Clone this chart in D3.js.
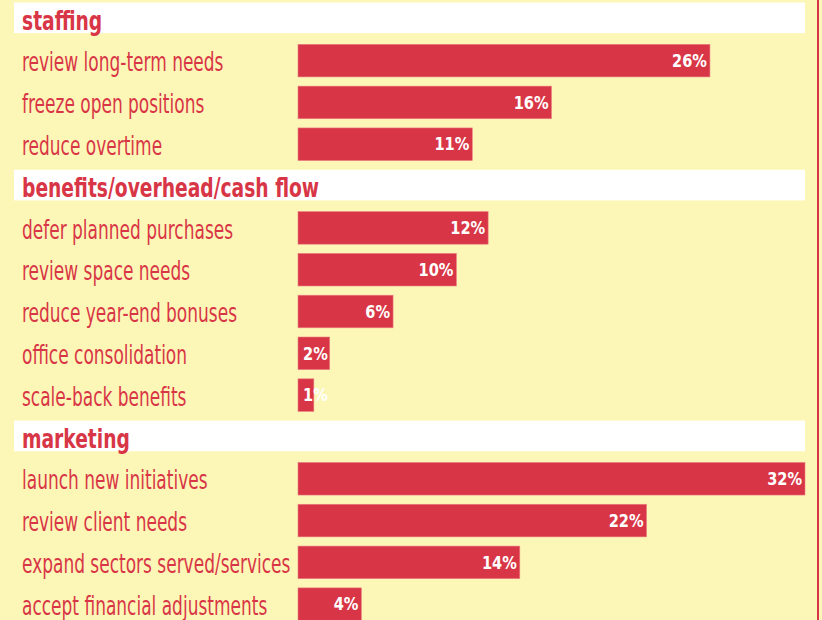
<!DOCTYPE html>
<html>
<head>
<meta charset="utf-8">
<script src="https://cdn.jsdelivr.net/npm/d3@7"></script>
<style>
  html, body { margin: 0; padding: 0; background: #fdf7b7; }
  svg { display: block; }
</style>
</head>
<body>
<svg id="chart" width="822" height="620"></svg>
<script>
// data
const groups = ["staffing", "benefits/overhead/cash flow", "marketing"];
const labels = [
    ["review long-term needs", "freeze open positions", "reduce overtime"],
    ["defer planned purchases", "review space needs", "reduce year-end bonuses", "office consolidation", "scale-back benefits"],
    ["launch new initiatives", "review client needs", "expand sectors served/services", "accept financial adjustments"]
];
const values = [
    [26, 16, 11],
    [12, 10, 6, 2, 1],
    [32, 22, 14, 4]
];

const red = "#d83646";
const font = "'DejaVu Sans Condensed', 'Liberation Sans Narrow', sans-serif";

// flatten into rows: one header then its items
let rows = [];
groups.forEach(function (g, gi) {
    rows.push({ key: "h" + gi, type: "header", label: g });
    labels[gi].forEach(function (l, i) {
        rows.push({ key: "r" + gi + "_" + i, type: "item", label: l, value: values[gi][i] });
    });
});

const svg = d3.select("#chart");

const y = d3.scaleBand()
    .domain(rows.map(d => d.key))
    .range([2.5, 2.5 + rows.length * 41.2])
    .paddingInner(0.22)
    .paddingOuter(0)
    .align(0);

const x = d3.scaleLinear()
    .domain([0, 32])
    .range([298, 805]);

// right edge rule
svg.append("line")
    .attr("x1", 818).attr("x2", 818)
    .attr("y1", 0).attr("y2", 620)
    .attr("stroke", red)
    .attr("stroke-width", 2);

// header bands
let headers = rows.filter(d => d.type === "header");
svg.selectAll("rect.header")
    .data(headers)
    .enter()
    .append("rect")
    .attr("class", "header")
    .attr("x", 14)
    .attr("y", d => y(d.key))
    .attr("width", 805 - 14)
    .attr("height", y.bandwidth() - 2)
    .attr("fill", "white");

// the source font is a tall condensed face, so squeeze the text sideways
svg.selectAll("text.header")
    .data(headers)
    .enter()
    .append("text")
    .attr("class", "header")
    .attr("transform", d => `translate(22,${y(d.key) + 27}) scale(0.77,1)`)
    .attr("fill", red)
    .attr("font-family", font)
    .attr("font-weight", "bold")
    .attr("font-size", 27)
    .text(d => d.label);

// item rows
let items = rows.filter(d => d.type === "item");

svg.selectAll("text.label")
    .data(items)
    .enter()
    .append("text")
    .attr("class", "label")
    .attr("transform", d => `translate(22,${y(d.key) + 27}) scale(0.7,1)`)
    .attr("fill", red)
    .attr("font-family", font)
    .attr("font-size", 27)
    .text(d => d.label);

svg.selectAll("rect.bar")
    .data(items)
    .enter()
    .append("rect")
    .attr("class", "bar")
    .attr("x", x(0))
    .attr("y", d => y(d.key))
    .attr("width", d => x(d.value) - x(0))
    .attr("height", y.bandwidth())
    .attr("fill", red)
    .attr("stroke", "#ec7f86")
    .attr("stroke-width", 0.6);

// value labels: right aligned at the bar end, but never before the bar start
const vScale = 0.9;
svg.selectAll("text.value")
    .data(items)
    .enter()
    .append("text")
    .attr("class", "value")
    .attr("fill", "white")
    .attr("font-family", font)
    .attr("font-weight", "bold")
    .attr("font-size", 18)
    .attr("text-anchor", "end")
    .text(d => d.value + "%")
    .attr("transform", function (d) {
        let w = this.getComputedTextLength() * vScale;
        let xe = Math.max(x(d.value) - 3, x(0) + 5 + w);
        return `translate(${xe},${y(d.key) + 22.5}) scale(${vScale},1)`;
    });
</script>
</body>
</html>
